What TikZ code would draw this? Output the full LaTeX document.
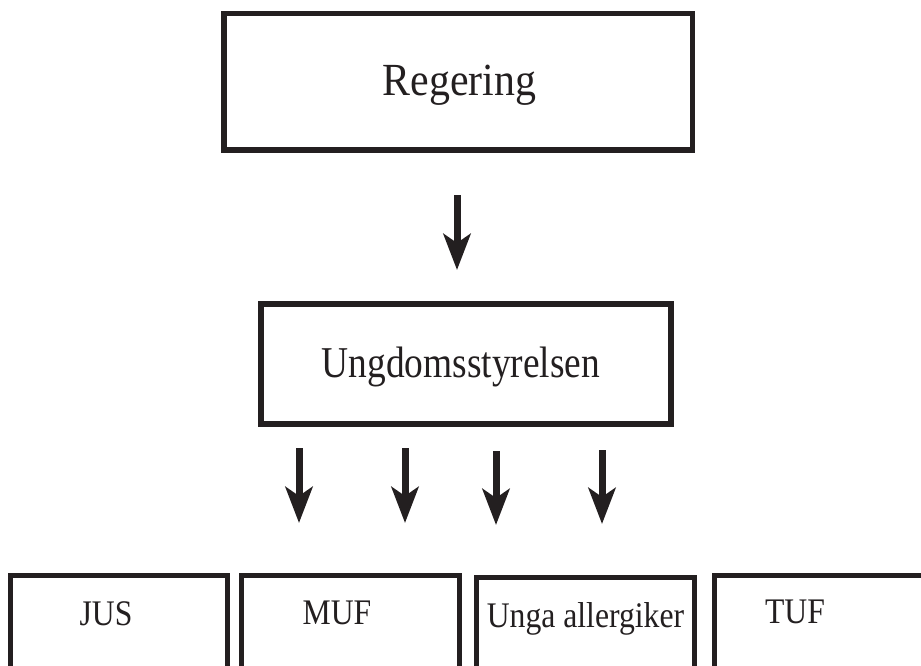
\documentclass[tikz,border=0pt]{standalone}
\usepackage{fontspec}
\setmainfont{Liberation Serif}
\usetikzlibrary{arrows.meta}
\definecolor{ink}{HTML}{231F20}
\tikzset{
  box/.style={draw=ink, line width=5.5pt, inner sep=0pt},
  lbl/.style={text=ink, inner sep=0pt, anchor=base},
  bigarrow/.style={draw=ink, line width=7pt, -{Stealth[length=36pt, width=27pt, inset=9pt]}},
}
\begin{document}
\begin{tikzpicture}[x=1pt, y=-1pt]
\useasboundingbox (0,0) rectangle (921,666);
\clip (0,0) rectangle (921,666);
% top boxes
\node[box, minimum width=468.5pt, minimum height=136.5pt] (reg) at (458,82) {};
\node[box, line width=6pt, minimum width=410pt, minimum height=120pt] (ung) at (466,364) {};
\node[lbl, font=\fontsize{46}{52}\selectfont\addfontfeatures{FakeStretch=0.91}] (treg) at (459.5,96) {Regering};
\node[lbl, font=\fontsize{44}{50}\selectfont\addfontfeatures{FakeStretch=0.85}] (tung) at (461,377) {Ungdomsstyrelsen};
% bottom boxes
\node[box, minimum width=217pt, minimum height=200pt] (jus) at (119,675.5) {};
\node[box, minimum width=218pt, minimum height=200pt] (muf) at (350.5,675.5) {};
\node[box, minimum width=218pt, minimum height=200pt] (unga) at (585.5,677.5) {};
\node[box, minimum width=230pt, minimum height=200pt] (tuf) at (829.5,675.5) {};
\begin{scope}[every node/.style={lbl, font=\fontsize{36}{40}\selectfont\addfontfeatures{FakeStretch=0.88}}]
\node (tjus) at (106,625) {JUS};
\node (tmuf) at (337,624) {MUF};
\node (tunga) at (585.5,627) {Unga allergiker};
\node (ttuf) at (795,623) {TUF};
\end{scope}
% arrows
\coordinate (a0s) at (457,195); \coordinate (a0e) at (457,270);
\coordinate (a1s) at (299,448); \coordinate (a1e) at (299,523);
\coordinate (a2s) at (405,448); \coordinate (a2e) at (405,523);
\coordinate (a3s) at (496,451); \coordinate (a3e) at (496,525);
\coordinate (a4s) at (602,450); \coordinate (a4e) at (602,524);
\draw[bigarrow] (a0s) -- (a0e);
\draw[bigarrow] (a1s) -- (a1e);
\draw[bigarrow] (a2s) -- (a2e);
\draw[bigarrow] (a3s) -- (a3e);
\draw[bigarrow] (a4s) -- (a4e);
\end{tikzpicture}
\end{document}
